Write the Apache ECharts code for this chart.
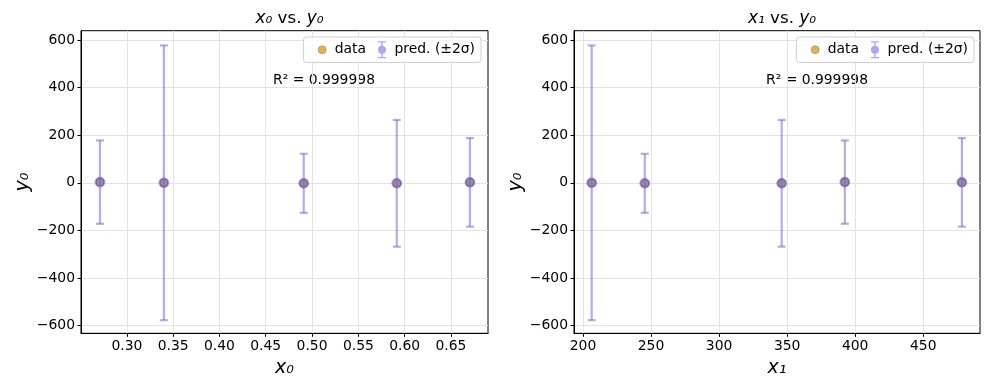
<!DOCTYPE html>
<html><head><meta charset="utf-8">
<script src="https://cdn.jsdelivr.net/npm/echarts@6/dist/echarts.min.js"></script>
<style>html,body{margin:0;padding:0;background:#fff}#c{width:989px;height:390px}</style>
</head><body><div id="c"></div>
<script>
// data
const x0 = [0.271, 0.340, 0.491, 0.5915, 0.6705];
const x1 = [392.4, 206.4, 245.4, 346.0, 478.4];
const y0 = [3, 0, -2, -2, 2];
const predY = [3, 0, -2, -2, 2];
const twoSigma = [175, 577, 124, 266, 186];
const x0Ticks = [0.30, 0.35, 0.40, 0.45, 0.50, 0.55, 0.60, 0.65];
const x1Ticks = [200, 250, 300, 350, 400, 450];
const yTicks = [-600, -400, -200, 0, 200, 400, 600];
const r2Text = 'R² = 0.999998';

const FONT = 'DejaVu Sans';
const chart = echarts.init(document.getElementById('c'), null, {renderer: 'canvas'});
const errColor = 'rgba(110,95,225,0.52)';
const predFill = 'rgba(110,95,215,0.62)';
const gold = '#e0b44e';
const TICK_FS = 13.9;

function xAxis(gi, ticks, min, max, name, fmt) {
  return {
    type: 'value', gridIndex: gi, min: min, max: max,
    name: name, nameLocation: 'middle', nameGap: 25,
    nameTextStyle: {fontFamily: FONT, fontSize: 19, color: '#000', fontStyle: 'italic'},
    axisLine: {show: true, onZero: false, lineStyle: {color: '#000', width: 1}},
    axisTick: {show: true, length: 3.5, inside: false, customValues: ticks, lineStyle: {color: '#000'}},
    axisLabel: {customValues: ticks, fontFamily: FONT, fontSize: TICK_FS, color: '#000', margin: 6, formatter: fmt},
    splitLine: {show: true, lineStyle: {color: '#e3e3e3', width: 1}}
  };
}
function yAxis(gi) {
  return {
    type: 'value', gridIndex: gi, min: -632, max: 639,
    name: 'y₀', nameLocation: 'middle', nameGap: 48, nameRotate: 90,
    nameTextStyle: {fontFamily: FONT, fontSize: 19, color: '#000', fontStyle: 'italic'},
    axisLine: {show: true, onZero: false, lineStyle: {color: '#000', width: 1}},
    axisTick: {show: true, length: 3.5, customValues: yTicks, lineStyle: {color: '#000'}},
    axisLabel: {customValues: yTicks, fontFamily: FONT, fontSize: TICK_FS, color: '#000', margin: 6,
      formatter: v => (v < 0 ? '\u2212' + Math.abs(v) : String(v))},
    splitLine: {show: true, lineStyle: {color: '#e3e3e3', width: 1}}
  };
}
function errSeries(idx, xs) {
  return {
    type: 'custom', name: 'pred. (±2σ)', xAxisIndex: idx, yAxisIndex: idx, z: 3,
    data: xs.map((x, i) => [x, predY[i], twoSigma[i]]),
    renderItem: function (params, api) {
      const x = api.value(0), y = api.value(1), e = api.value(2);
      const top = api.coord([x, y + e]);
      const bot = api.coord([x, y - e]);
      const st = {stroke: errColor, lineWidth: 2.2, fill: null};
      return {type: 'group', children: [
        {type: 'line', shape: {x1: top[0], y1: top[1], x2: bot[0], y2: bot[1]}, style: st},
        {type: 'line', shape: {x1: top[0] - 4, y1: top[1], x2: top[0] + 4, y2: top[1]}, style: st},
        {type: 'line', shape: {x1: bot[0] - 4, y1: bot[1], x2: bot[0] + 4, y2: bot[1]}, style: st}
      ]};
    }
  };
}
function dataSeries(idx, xs) {
  return {type: 'scatter', name: 'data', xAxisIndex: idx, yAxisIndex: idx, z: 2,
    symbol: 'circle', symbolSize: 8, data: xs.map((x, i) => [x, y0[i]]),
    itemStyle: {color: gold, borderColor: '#444', borderWidth: 0.8, opacity: 1}};
}
function predSeries(idx, xs) {
  return {type: 'scatter', name: 'pred. (±2σ)', xAxisIndex: idx, yAxisIndex: idx, z: 4,
    symbol: 'circle', symbolSize: 10, data: xs.map((x, i) => [x, predY[i]]),
    itemStyle: {color: predFill, borderColor: 'rgba(120,105,225,0.6)', borderWidth: 1}};
}
const errIcon = 'path://M3.8,0 H5.2 V4.6 H3.8 Z M3.8,12.4 H5.2 V17 H3.8 Z M0.5,0 H8.5 V1.2 H0.5 Z M0.5,15.8 H8.5 V17 H0.5 Z M4.5,4.5 A4,4 0 1,1 4.5,12.5 A4,4 0 1,1 4.5,4.5 Z';
const dotIcon = 'path://M0,0 L0.01,0 L0,0.01 Z M9,17 L8.99,17 L9,16.99 Z M4.5,4.5 A4,4 0 1,0 4.5,12.5 A4,4 0 1,0 4.5,4.5 Z';
function legend(right) {
  return {
    right: right, top: 37, orient: 'horizontal', padding: [4, 6, 4, 14], itemGap: 12,
    itemWidth: 9, itemHeight: 17,
    backgroundColor: 'rgba(255,255,255,0.8)', borderColor: '#d0d0d0', borderWidth: 1, borderRadius: 3,
    textStyle: {fontFamily: FONT, fontSize: 13.9, color: '#000', padding: [0, 0, 0, 3]},
    selectedMode: false,
    data: [
      {name: 'data', icon: dotIcon, itemStyle: {color: gold, borderColor: '#8a7a50', borderWidth: 0.5}},
      {name: 'pred. (±2σ)', icon: errIcon, itemStyle: {color: 'rgba(123,104,238,0.6)', borderWidth: 0}}
    ]
  };
}
function title(left, txt) {
  return {text: txt, left: left, top: 5, textAlign: 'center',
    textStyle: {fontFamily: FONT, fontSize: 16.7, fontWeight: 'normal', color: '#000',
      rich: {i: {fontFamily: FONT, fontSize: 17, fontStyle: 'italic'}, n: {fontFamily: FONT, fontSize: 16.7}}}};
}
const option = {
  animation: false,
  title: [
    title(284.5, '{i|x₀}{n| vs. }{i|y₀}'),
    title(777, '{i|x₁}{n| vs. }{i|y₀}')
  ],
  legend: [legend(508), legend(15)],
  grid: [
    {left: 81, right: 501, top: 30.7, bottom: 56.7, show: true, borderColor: '#000', borderWidth: 1, backgroundColor: 'transparent'},
    {left: 574, right: 9, top: 30.7, bottom: 56.7, show: true, borderColor: '#000', borderWidth: 1, backgroundColor: 'transparent'}
  ],
  xAxis: [
    xAxis(0, x0Ticks, 0.2505, 0.690, 'x₀', v => v.toFixed(2)),
    xAxis(1, x1Ticks, 193.4, 491.7, 'x₁', v => String(Math.round(v)))
  ],
  yAxis: [yAxis(0), yAxis(1)],
  graphic: [
    {type: 'text', left: 273, top: 73, style: {text: r2Text, fontFamily: FONT, fontSize: 13.9, fill: '#000'}},
    {type: 'text', left: 766, top: 73, style: {text: r2Text, fontFamily: FONT, fontSize: 13.9, fill: '#000'}}
  ],
  series: [
    dataSeries(0, x0), errSeries(0, x0), predSeries(0, x0),
    dataSeries(1, x1), errSeries(1, x1), predSeries(1, x1)
  ]
};
chart.setOption(option);
</script></body></html>
